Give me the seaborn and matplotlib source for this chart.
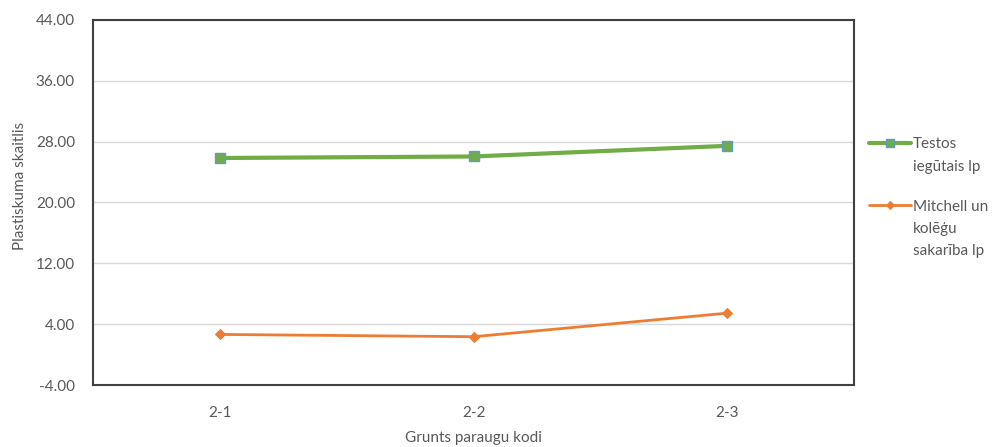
import numpy as np
import pandas as pd
import matplotlib
matplotlib.use("Agg")
import matplotlib.pyplot as plt
import seaborn as sns

# ── Data ──────────────────────────────────────────────────────────────────────
codes       = ["2-1", "2-2", "2-3"]
ip_test     = [25.85, 26.05, 27.45]
ip_mitchell = [2.65, 2.35, 5.45]
yticks      = [-4, 4, 12, 20, 28, 36, 44]

SERIES_TEST = "Testos\niegūtais lp"
SERIES_MIT  = "Mitchell un\nkolēģu\nsakarība lp"

GREEN  = "#70AD47"
ORANGE = "#ED7D31"
TXT    = "#595959"
FS     = 11

sns.set_theme(style="white")
plt.rcParams["font.family"] = ["Lato", "DejaVu Sans"]

df = pd.DataFrame({
    "code":   codes * 2,
    "value":  ip_test + ip_mitchell,
    "series": [SERIES_TEST] * 3 + [SERIES_MIT] * 3,
})

fig = plt.figure(figsize=(9.95, 4.47), dpi=100)
ax = fig.add_axes([0.0935, 0.1387, 0.765, 0.8166])

d1 = df[df.series == SERIES_TEST]
d2 = df[df.series == SERIES_MIT]
sns.lineplot(data=d1, x="code", y="value", ax=ax, color=GREEN, lw=3,
             marker="s", markersize=6.5, markerfacecolor=GREEN,
             markeredgecolor="#5B9BD5", markeredgewidth=1.0,
             label=SERIES_TEST, sort=False)
sns.lineplot(data=d2, x="code", y="value", ax=ax, color=ORANGE, lw=2,
             marker="D", markersize=5, markerfacecolor=ORANGE,
             markeredgecolor=ORANGE, label=SERIES_MIT, sort=False)

ax.set_xlim(-0.5, 2.5)
ax.set_ylim(-4, 44)
ax.set_yticks(yticks)
ax.set_yticklabels([f"{v:.2f}" for v in yticks])
ax.yaxis.grid(True, color="#D9D9D9", lw=1)
ax.set_axisbelow(True)

for s in ax.spines.values():
    s.set_color("#404040")
    s.set_linewidth(1.5)

ax.tick_params(axis="y", length=0, labelsize=FS, colors=TXT, pad=13)
ax.tick_params(axis="x", length=0, labelsize=FS, colors=TXT, pad=15)
ax.set_xlabel("Grunts paraugu kodi", fontsize=FS, color=TXT)
ax.set_ylabel("Plastiskuma skaitlis", fontsize=FS, color=TXT)
ax.xaxis.set_label_coords(0.5, -0.125)
ax.yaxis.set_label_coords(-0.087, 0.545)

leg = ax.legend(loc="upper left", bbox_to_anchor=(1.012, 0.695), frameon=False,
                fontsize=FS, labelcolor=TXT, handlelength=2.7,
                handletextpad=0.15, labelspacing=1.7, borderaxespad=0,
                markerscale=0.8)
for t in leg.get_texts():
    t.set_linespacing(1.75)
# put each handle next to the first line of its label
for col in leg._legend_handle_box.get_children():
    for row in col.get_children():
        row.align = "top"

fig.savefig("out.png", dpi=100)
